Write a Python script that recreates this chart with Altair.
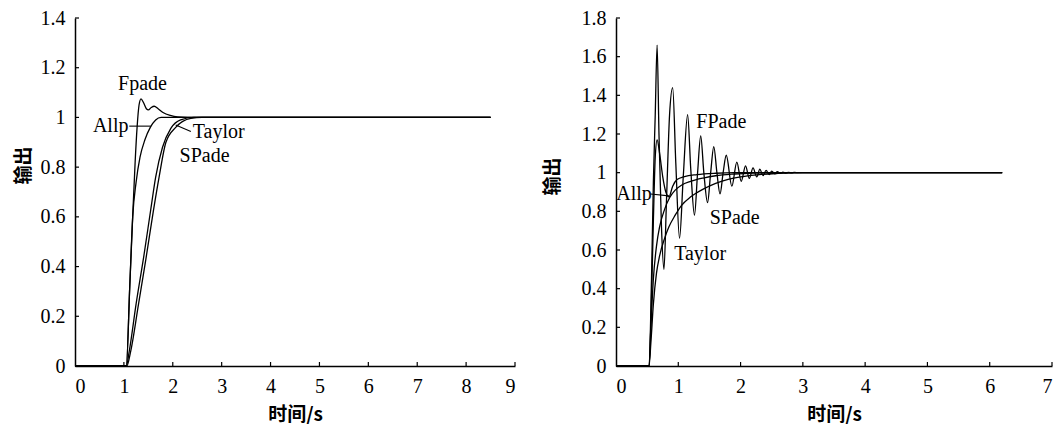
import altair as alt
import pandas as pd

# ---------------- left panel (delay about 1 s) ----------------
L_fpade_t = [0, 1.05, 1.12, 1.18, 1.23, 1.27, 1.31, 1.35, 1.40, 1.46, 1.50, 1.56, 1.62, 1.70, 1.80, 1.95, 2.10, 2.30, 8.5]
L_fpade_y = [0, 0, 0.32, 0.60, 0.82, 0.96, 1.05, 1.075, 1.06, 1.035, 1.03, 1.04, 1.045, 1.035, 1.02, 1.008, 1.002, 1.0, 1.0]
L_allp_t = [0, 1.05, 1.12, 1.18, 1.25, 1.33, 1.43, 1.54, 1.65, 1.76, 8.5]
L_allp_y = [0, 0, 0.32, 0.60, 0.74, 0.84, 0.91, 0.96, 0.99, 1.0, 1.0]
L_taylor_t = [0, 1.05, 1.11, 1.25, 1.41, 1.55, 1.65, 1.79, 1.96, 2.16, 2.43, 8.5]
L_taylor_y = [0, 0, 0.06, 0.25, 0.445, 0.63, 0.76, 0.88, 0.956, 0.99, 1.0, 1.0]
L_spade_t = [0, 1.06, 1.14, 1.30, 1.45, 1.60, 1.72, 1.86, 2.06, 2.37, 2.60, 8.5]
L_spade_y = [0, 0, 0.06, 0.25, 0.43, 0.62, 0.76, 0.90, 0.96, 0.996, 1.0, 1.0]

L_labels = ["Fpade", "Allp", "Taylor", "SPade"]
L_label_t = [1.38, 0.73, 2.94, 2.65]
L_label_y = [1.135, 0.965, 0.943, 0.843]
L_ptr_t = [1.11, 2.06]
L_ptr_t2 = [1.55, 2.37]
L_ptr_y = [0.965, 0.97]
L_ptr_y2 = [0.965, 0.943]

L_xticks = [0, 1, 2, 3, 4, 5, 6, 7, 8, 9]
L_yticks = [0, 0.2, 0.4, 0.6, 0.8, 1.0, 1.2, 1.4]

# ---------------- right panel (delay about 0.5 s) ----------------
R_fpade_t = [0, 0.53, 0.57, 0.60, 0.63, 0.66, 0.69, 0.73, 0.77, 0.81, 0.86, 0.91, 0.96, 1.02, 1.08, 1.15, 1.20,
             1.26, 1.31, 1.36, 1.41, 1.47, 1.52, 1.57, 1.62, 1.67, 1.72, 1.77, 1.86, 1.94, 2.01, 2.08, 2.14, 2.20,
             2.26, 2.31, 2.36, 2.41, 2.46, 2.50, 2.55, 2.59, 2.64, 2.68, 2.73, 2.77, 2.82, 2.86, 2.95, 6.2]
R_fpade_y = [0, 0, 0.45, 0.95, 1.3, 1.66, 1.2, 0.72, 0.50, 0.85, 1.3, 1.44, 1.05, 0.66, 0.98, 1.30, 1.02,
             0.78, 1.0, 1.19, 1.0, 0.845, 1.0, 1.135, 1.0, 0.89, 1.0, 1.09, 0.93, 1.055, 0.955, 1.035, 0.97, 1.025,
             0.978, 1.018, 0.985, 1.012, 0.99, 1.008, 0.994, 1.005, 0.996, 1.003, 0.998, 1.002, 0.999, 1.001, 1.0, 1.0]
R_allp_t = [0, 0.53, 0.57, 0.60, 0.63, 0.66, 0.70, 0.75, 0.80, 0.85, 0.91, 0.98, 1.1, 1.3, 1.6, 1.9, 6.2]
R_allp_y = [0, 0, 0.35, 0.75, 1.08, 1.17, 1.10, 0.98, 0.90, 0.875, 0.93, 0.965, 0.98, 0.99, 0.997, 1.0, 1.0]
R_taylor_t = [0, 0.53, 0.56, 0.60, 0.65, 0.70, 0.78, 0.85, 0.95, 1.05, 1.2, 1.4, 1.6, 1.8, 2.0, 2.3, 2.6, 3.0, 6.2]
R_taylor_y = [0, 0, 0.12, 0.32, 0.48, 0.57, 0.66, 0.72, 0.78, 0.83, 0.875, 0.915, 0.945, 0.965, 0.978, 0.99, 0.996, 1.0, 1.0]
R_spade_t = [0, 0.53, 0.56, 0.60, 0.65, 0.70, 0.78, 0.86, 0.95, 1.05, 1.2, 1.4, 1.6, 1.9, 2.2, 2.6, 6.2]
R_spade_y = [0, 0, 0.2, 0.45, 0.62, 0.72, 0.81, 0.87, 0.91, 0.935, 0.955, 0.972, 0.984, 0.993, 0.998, 1.0, 1.0]

R_labels = ["FPade", "Allp", "SPade", "Taylor"]
R_label_t = [1.69, 0.29, 1.905, 1.35]
R_label_y = [1.262, 0.889, 0.764, 0.577]
R_ptr_t = [0.556]
R_ptr_t2 = [0.85]
R_ptr_y = [0.89]
R_ptr_y2 = [0.88]

R_xticks = [0, 1, 2, 3, 4, 5, 6, 7]
R_yticks = [0, 0.2, 0.4, 0.6, 0.8, 1.0, 1.2, 1.4, 1.6, 1.8]

FONT = "Liberation Serif"
CJK = "Noto Sans CJK SC"


def curves_df(series):
    frames = [pd.DataFrame({"t": t, "y": y, "s": name}) for name, t, y in series]
    return pd.concat(frames, ignore_index=True)


def panel(series, xmax, ymax, xticks, yticks, W, H, labels, lab_t, lab_y,
          p_t, p_t2, p_y, p_y2, ytitle_x, ytitle_y):
    xs = alt.Scale(domain=[0, xmax], nice=False, zero=False)
    ys = alt.Scale(domain=[0, ymax], nice=False, zero=False)
    common = dict(
        grid=False, ticks=False, domainColor="black", domainWidth=1.5,
        labelFont=FONT, labelFontSize=20, labelColor="black", labelPadding=10,
        titleFont=CJK, titleFontSize=19, titleFontWeight="bold", titleColor="black",
    )
    xaxis = alt.Axis(values=xticks, format="d", title="时间/s", titleX=W / 2, titleY=48,
                     titleBaseline="middle", titleAlign="center", **common)
    yaxis = alt.Axis(values=yticks, format="~g", title="输出", titleAngle=270,
                     titleX=ytitle_x, titleY=ytitle_y, titleAlign="center", **common)
    X = alt.X("t:Q", scale=xs, axis=xaxis)
    Y = alt.Y("y:Q", scale=ys, axis=yaxis)
    lines = alt.Chart(curves_df(series)).mark_line(
        color="black", strokeWidth=1.3, interpolate="monotone"
    ).encode(x=X, y=Y, detail="s:N")
    ytk = alt.Chart(pd.DataFrame({"y": yticks[1:]})).mark_rule(color="black", strokeWidth=1.2).encode(
        y=Y, x=alt.value(0), x2=alt.value(4)
    )
    xtk = alt.Chart(pd.DataFrame({"t": xticks[1:]})).mark_rule(color="black", strokeWidth=1.2).encode(
        x=X, y=alt.value(H), y2=alt.value(H - 4)
    )
    txt = alt.Chart(pd.DataFrame({"lab": labels, "t": lab_t, "y": lab_y})).mark_text(
        font=FONT, fontSize=20, color="black", align="center", baseline="middle"
    ).encode(x=X, y=Y, text="lab:N")
    ptr = alt.Chart(pd.DataFrame({"t": p_t, "t2": p_t2, "y": p_y, "y2": p_y2})).mark_rule(
        color="black", strokeWidth=1.1
    ).encode(x=X, x2="t2:Q", y=Y, y2="y2:Q")
    return alt.layer(lines, ytk, xtk, txt, ptr).properties(width=W, height=H)


left = panel(
    [("Fpade", L_fpade_t, L_fpade_y), ("Allp", L_allp_t, L_allp_y),
     ("Taylor", L_taylor_t, L_taylor_y), ("SPade", L_spade_t, L_spade_y)],
    9, 1.4, L_xticks, L_yticks, 440, 348, L_labels, L_label_t, L_label_y,
    L_ptr_t, L_ptr_t2, L_ptr_y, L_ptr_y2, -42, 147,
)
right = panel(
    [("FPade", R_fpade_t, R_fpade_y), ("Allp", R_allp_t, R_allp_y),
     ("Taylor", R_taylor_t, R_taylor_y), ("SPade", R_spade_t, R_spade_y)],
    7, 1.8, R_xticks, R_yticks, 436, 348, R_labels, R_label_t, R_label_y,
    R_ptr_t, R_ptr_t2, R_ptr_y, R_ptr_y2, -54, 158,
)

chart = alt.hconcat(left, right, spacing=101, bounds="flush").properties(
    padding={"left": 6, "top": 0, "right": 0, "bottom": 0}
).configure_view(stroke=None)

chart.save("out.html", embed_options={"renderer": "svg", "actions": False})
